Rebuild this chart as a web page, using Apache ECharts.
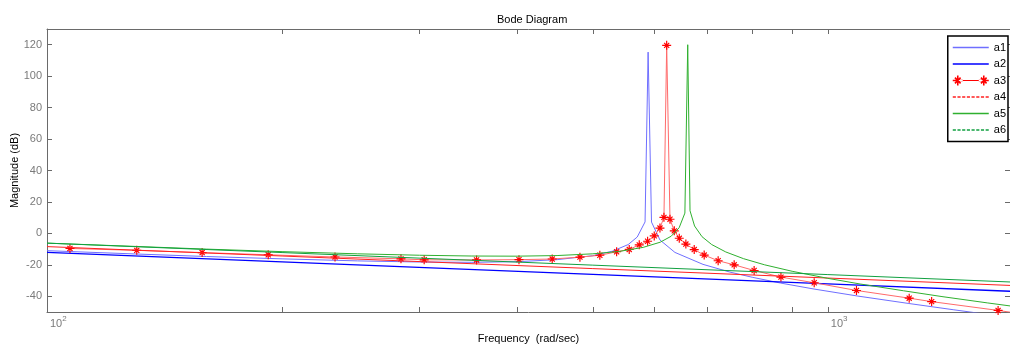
<!DOCTYPE html>
<html>
<head>
<meta charset="utf-8">
<script src="https://cdn.jsdelivr.net/npm/echarts@6/dist/echarts.min.js"></script>
<style>
  html, body { margin: 0; padding: 0; background: #fff; }
  #chart { width: 1010px; height: 350px; }
</style>
</head>
<body>
<div id="chart"></div>
<script>
// ---- data (frequency in rad/sec, magnitude in dB) ----
const seriesNames = ['a1', 'a2', 'a3', 'a4', 'a5', 'a6'];

const freqA1 = [100, 130, 160, 200, 250, 300, 350, 400, 450, 500, 530, 555, 570, 583.3, 588.6, 594.5, 609.5, 637, 692, 749, 800, 870, 960, 1090, 1270, 1450, 1650, 1800];
const magA1  = [-11.0, -13.1, -14.7, -16.2, -17.5, -18.2, -18.4, -18.0, -16.7, -14.2, -11.3, -7.1, -2.3, 7.3, 115.3, 7.2, -4.2, -12.1, -19.7, -24.6, -27.9, -31.6, -35.4, -39.8, -44.6, -48.6, -52.4, -54.8];

const freqA2 = [100, 200, 500, 1000, 1711];
const magA2  = [-12.1, -18.1, -26.1, -32.1, -36.8];

const freqA3 = [107.0, 130.3, 158.0, 192.0, 233.8, 284.0, 304.1, 354.9, 402.2, 443.6, 481.4, 510.5, 536.4, 556.7, 573.4, 587.7, 599.3, 609.5, 616.7, 621.7, 627.8, 635.8, 645.2, 657.9, 674.3, 694.4, 723.6, 758.6, 804.6, 870.8, 960.5, 1088, 1271, 1358, 1652, 1900];
const magA3  = [-9.6, -10.8, -12.2, -13.6, -15.0, -16.2, -16.8, -16.9, -16.7, -16.3, -15.1, -13.9, -11.7, -10.2, -7.3, -5.0, -1.6, 3.4, 10.2, 119.6, 9.0, 1.6, -3.1, -6.8, -10.3, -13.8, -17.4, -20.0, -23.6, -27.8, -31.4, -36.3, -41.2, -43.4, -49.0, -53.4];

const freqA4 = [100, 200, 500, 1000, 1711];
const magA4  = [-8.4, -14.4, -22.4, -28.4, -33.1];

const freqA5 = [100, 130, 160, 200, 250, 300, 350, 400, 450, 500, 540, 580, 610, 630, 645, 656, 661.5, 666, 675, 690, 710, 740, 780, 830, 900, 1000, 1100, 1250, 1400, 1600, 1800];
const magA5  = [-6.2, -8.3, -10.0, -11.6, -13.0, -13.9, -14.4, -14.5, -14.1, -13.0, -11.5, -8.9, -5.6, -1.8, 3.6, 12.9, 120.0, 14.4, 4.7, -2.1, -7.1, -11.8, -16.1, -20.0, -24.1, -28.6, -32.2, -36.5, -40.2, -44.2, -47.6];

const freqA6 = [100, 200, 500, 1000, 1711];
const magA6  = [-6.2, -12.2, -20.2, -26.2, -30.9];

const xMajorTicks = [100, 1000];
const xMajorLabels = ['2', '3'];          // exponents of 10
const xMinorTicks = [100, 200, 300, 400, 500, 600, 700, 800, 900, 1000];
const yTicks = [-40, -20, 0, 20, 40, 60, 80, 100, 120];

// ---- helpers ----
function zip(xs, ys) { return xs.map((x, i) => [x, ys[i]]); }

function spoke(cx, cy, r, h, dx, dy) {
  const nx = -dy, ny = dx;
  const p = [
    [cx - r * dx - h * nx, cy - r * dy - h * ny],
    [cx - r * dx + h * nx, cy - r * dy + h * ny],
    [cx + r * dx + h * nx, cy + r * dy + h * ny],
    [cx + r * dx - h * nx, cy + r * dy - h * ny]
  ].map(q => q[0].toFixed(2) + ',' + q[1].toFixed(2));
  return 'M' + p[0] + 'L' + p[1] + 'L' + p[2] + 'L' + p[3] + 'Z';
}
function starPath(cx, cy, r, h) {
  const s = Math.SQRT1_2;
  return spoke(cx, cy, r, h, 1, 0) + spoke(cx, cy, r, h, 0, 1) +
         spoke(cx, cy, r * 0.8, h, s, s) + spoke(cx, cy, r * 0.8, h, s, -s);
}
const starSymbol = 'path://' + starPath(10, 10, 10, 1.3);
const legendStarIcon = 'path://' + starPath(5, 7, 5, 0.8) + starPath(31, 7, 5, 0.8) +
  'M5,6.5L31,6.5L31,7.5L5,7.5Z';
let solid = '';
for (let x = 0; x < 36; x += 4.5) { solid += 'M' + x + ',6.25L' + (x + 4.6) + ',6.25L' + (x + 4.6) + ',7.75L' + x + ',7.75Z'; }
const legendSolidIcon = 'path://' + solid;
let dashed = '';
for (let x = 0; x < 36; x += 4.5) { dashed += 'M' + x + ',6.4L' + (x + 3) + ',6.4L' + (x + 3) + ',7.6L' + x + ',7.6Z'; }
const legendDashIcon = 'path://' + dashed;

const FONT = 'Liberation Sans, Arial, Helvetica, sans-serif';
const AXIS_COLOR = '#6a6a6a';
const LABEL_COLOR = '#7a7a7a';
const COLORS = ['#6f6fff', '#0000ff', '#ff0000', '#ff2020', '#2fb02f', '#10a040'];

const labelExp = {};
xMajorTicks.forEach((v, i) => { labelExp[v] = xMajorLabels[i]; });

function legendItem(i, icon) {
  return { name: seriesNames[i], icon: icon,
           itemStyle: { color: COLORS[i], borderColor: COLORS[i], borderWidth: 0, opacity: 1 },
           lineStyle: { color: COLORS[i], width: 0, opacity: 0 } };
}

const chart = echarts.init(document.getElementById('chart'), null, { renderer: 'canvas' });

const commonX = {
  type: 'log', logBase: 10, min: 100, max: 1711,
  splitLine: { show: false }, minorTick: { show: false }, minorSplitLine: { show: false }
};

chart.setOption({
  animation: false,
  backgroundColor: '#ffffff',
  title: {
    text: 'Bode Diagram', left: 492, top: 9,
    textStyle: { fontSize: 11, fontWeight: 'normal', color: '#000', fontFamily: FONT }
  },
  grid: { left: 47, right: 0, top: 29, bottom: 38, containLabel: false, outerBoundsMode: 'none' },
  legend: {
    orient: 'vertical', right: 2, top: 36,
    padding: [6, 2, 6, 5], itemGap: 5.5, itemWidth: 36, itemHeight: 13,
    borderColor: '#000', borderWidth: 1.5, backgroundColor: '#fff',
    textStyle: { fontSize: 11, color: '#000', fontFamily: FONT },
    data: [
      legendItem(0, legendSolidIcon),
      legendItem(1, legendSolidIcon),
      legendItem(2, legendStarIcon),
      legendItem(3, legendDashIcon),
      legendItem(4, legendSolidIcon),
      legendItem(5, legendDashIcon)
    ]
  },
  xAxis: [
    Object.assign({}, commonX, {
      position: 'bottom',
      name: 'Frequency  (rad/sec)', nameLocation: 'middle', nameGap: 21, nameMoveOverlap: false,
      nameTextStyle: { fontSize: 11, color: '#000', fontFamily: FONT },
      axisLine: { show: true, onZero: false, lineStyle: { color: AXIS_COLOR, width: 1 } },
      axisTick: { show: true, inside: true, length: 5, customValues: xMinorTicks, lineStyle: { color: AXIS_COLOR } },
      axisLabel: {
        show: true, customValues: xMajorTicks, margin: 2, align: 'left',
        formatter: function (v) { return '{b|10}{s|' + (labelExp[v] || '') + '}'; },
        rich: {
          b: { fontSize: 11, color: LABEL_COLOR, fontFamily: FONT, padding: [4, 0, 0, 3] },
          s: { fontSize: 8, color: LABEL_COLOR, fontFamily: FONT, padding: [0, 0, 6, 0] }
        }
      }
    }),
    Object.assign({}, commonX, {
      position: 'top',
      axisLine: { show: true, onZero: false, lineStyle: { color: AXIS_COLOR, width: 1 } },
      axisTick: { show: true, inside: true, length: 5, customValues: xMinorTicks, lineStyle: { color: AXIS_COLOR } },
      axisLabel: { show: false }
    })
  ],
  yAxis: [
    {
      type: 'value', position: 'left', min: -50, max: 130, interval: 10,
      name: 'Magnitude (dB)', nameLocation: 'middle', nameGap: 27, nameRotate: 90, nameMoveOverlap: false,
      nameTextStyle: { fontSize: 11, color: '#000', fontFamily: FONT },
      splitLine: { show: false },
      axisLine: { show: true, onZero: false, lineStyle: { color: AXIS_COLOR, width: 1 } },
      axisTick: { show: true, inside: true, length: 5, customValues: yTicks, lineStyle: { color: AXIS_COLOR } },
      axisLabel: { show: true, customValues: yTicks, margin: 5, fontSize: 11, color: LABEL_COLOR, fontFamily: FONT }
    },
    {
      type: 'value', position: 'right', min: -50, max: 130, interval: 10,
      splitLine: { show: false },
      axisLine: { show: false, onZero: false },
      axisTick: { show: true, inside: true, length: 5, customValues: yTicks, lineStyle: { color: AXIS_COLOR } },
      axisLabel: { show: false }
    }
  ],
  series: [
    { name: 'a1', type: 'line', data: zip(freqA1, magA1), symbol: 'none', color: COLORS[0],
      lineStyle: { width: 1, color: COLORS[0] }, z: 2 },
    { name: 'a2', type: 'line', data: zip(freqA2, magA2), symbol: 'none', color: COLORS[1],
      lineStyle: { width: 1.3, color: COLORS[1] }, z: 3 },
    { name: 'a3', type: 'line', data: zip(freqA3, magA3), symbol: starSymbol, symbolSize: 9,
      color: COLORS[2], itemStyle: { color: COLORS[2] },
      lineStyle: { width: 1, color: '#ff6a6a' }, z: 4 },
    { name: 'a4', type: 'line', data: zip(freqA4, magA4), symbol: 'none', color: COLORS[3],
      lineStyle: { width: 1, color: COLORS[3] }, z: 5 },
    { name: 'a5', type: 'line', data: zip(freqA5, magA5), symbol: 'none', color: COLORS[4],
      lineStyle: { width: 1, color: COLORS[4] }, z: 6 },
    { name: 'a6', type: 'line', data: zip(freqA6, magA6), symbol: 'none', color: COLORS[5],
      lineStyle: { width: 1, color: COLORS[5] }, z: 7 }
  ]
});
</script>
</body>
</html>
